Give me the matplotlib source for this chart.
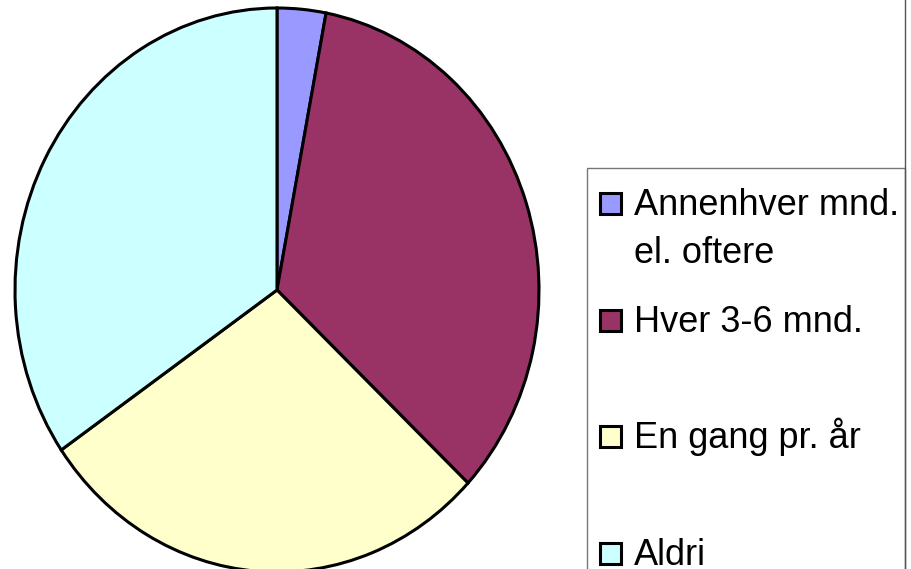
import matplotlib
matplotlib.use('Agg')
import matplotlib.pyplot as plt
from matplotlib.patches import Rectangle
from matplotlib.lines import Line2D

# Data (shares)
labels = ['Annenhver mnd.\nel. oftere', 'Hver 3-6 mnd.', 'En gang pr. år', 'Aldri']
shares = [3.0, 34.0, 28.4, 34.6]
colors = ['#9999FF', '#993366', '#FFFFCC', '#CCFFFF']

W, H = 912, 569
plt.rcParams['font.family'] = ['Liberation Sans', 'DejaVu Sans']

fig = plt.figure(figsize=(W / 100, H / 100), dpi=100)

def fx(x):
    return x / W

def fy(y):
    return 1 - y / H

# pie, slightly taller than wide as in the original
ax = fig.add_axes([fx(15), fy(572), 524 / W, 564 / H])
ax.pie(shares, colors=colors, startangle=90, counterclock=False,
       wedgeprops=dict(edgecolor='black', linewidth=2.2))
ax.set_aspect('auto')
ax.set_xlim(-1.0, 1.0)
ax.set_ylim(-1.0, 1.0)
ax.axis('off')
for w in ax.patches:
    w.set_clip_on(False)

# chart area border on the right and legend box
fig.add_artist(Line2D([fx(905), fx(905)], [0, 1], color='#555555', lw=1.0,
                      transform=fig.transFigure))
fig.add_artist(Rectangle((fx(587), fy(575)), (905 - 587) / W, (575 - 168) / H,
                         transform=fig.transFigure, facecolor='none',
                         edgecolor='#777777', lw=1.0))

# legend entries (marker next to the first line of each label)
y0 = 215
step = 116.7
line_gap = 48
for i, (lab, col) in enumerate(zip(labels, colors)):
    base = y0 + i * step
    fig.add_artist(Rectangle((fx(600), fy(base - 1)), 21 / W, 21 / H,
                             transform=fig.transFigure, facecolor=col,
                             edgecolor='black', lw=2.2))
    for j, part in enumerate(lab.split('\n')):
        fig.text(fx(634), fy(base + j * line_gap), part, fontsize=26,
                 va='baseline', ha='left')

fig.savefig('out.png', dpi=100)
